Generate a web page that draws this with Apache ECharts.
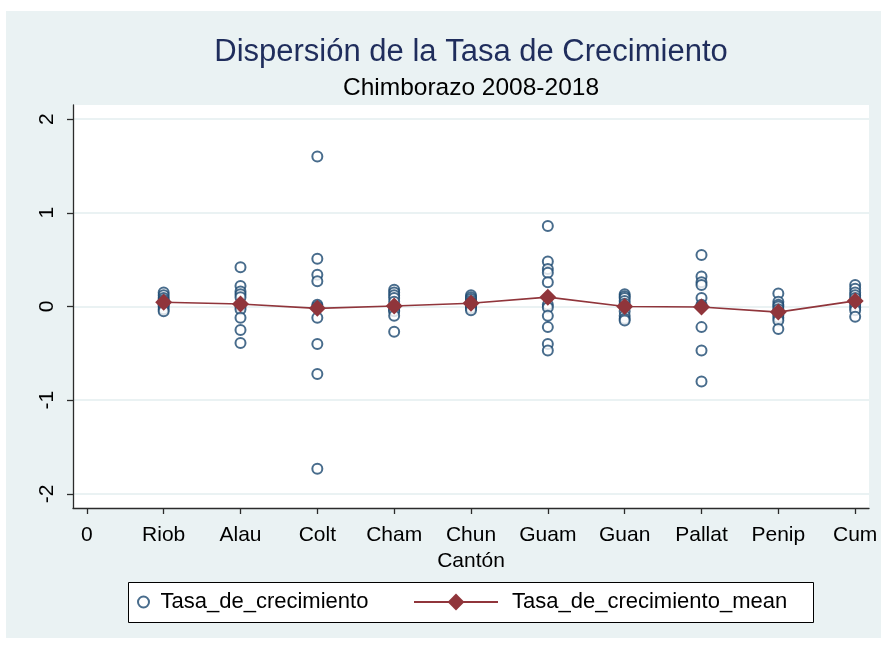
<!DOCTYPE html>
<html>
<head>
<meta charset="utf-8">
<script src="https://cdn.jsdelivr.net/npm/echarts@6/dist/echarts.min.js"></script>
<style>
  html, body { margin: 0; padding: 0; background: #fff; }
  #chart { width: 889px; height: 646px; }
</style>
</head>
<body>
<div id="chart"></div>
<script>
// x tick labels (position 0..10), cantons sit at 1..10
const tickLabels = ['0', 'Riob', 'Alau', 'Colt', 'Cham', 'Chun', 'Guam', 'Guan', 'Pallat', 'Penip', 'Cum']
const yTicks = [-2, -1, 0, 1, 2]

// growth rates per canton
const riob = [0.15, 0.12, 0.09, 0.07, 0.05, 0.03, 0.02, 0.0, -0.03, -0.05]
const alau = [0.42, 0.22, 0.16, 0.13, 0.10, 0.0, -0.03, -0.12, -0.25, -0.39]
const colt = [1.60, 0.51, 0.34, 0.27, 0.02, 0.0, -0.12, -0.40, -0.72, -1.73]
const cham = [0.18, 0.15, 0.12, 0.09, 0.05, -0.04, -0.02, -0.05, -0.10, -0.27]
const chun = [0.12, 0.10, 0.08, 0.06, 0.04, 0.03, 0.01, 0.0, -0.02, -0.04]
const guam = [0.86, 0.48, 0.40, 0.36, 0.26, 0.02, -0.01, -0.10, -0.22, -0.40, -0.47]
const guan = [0.13, 0.11, 0.09, 0.06, 0.03, 0.0, -0.05, -0.10, -0.13, -0.15]
const pallat = [0.55, 0.32, 0.26, 0.23, 0.09, 0.02, 0.0, -0.22, -0.47, -0.80]
const penip = [0.14, 0.05, 0.02, 0.0, -0.03, -0.06, -0.09, -0.12, -0.15, -0.24]
const cum = [0.23, 0.19, 0.15, 0.12, 0.09, 0.05, 0.02, -0.01, -0.04, -0.11]

// canton means (diamonds)
const means = [0.045, 0.027, -0.02, 0.005, 0.034, 0.10, 0.0, -0.005, -0.06, 0.06]

const font = 'Liberation Sans'
const navy = '#1a476f'
const maroon = '#90353b'
const axisColor = '#2b2b2b'

const scatterData = []
;[riob, alau, colt, cham, chun, guam, guan, pallat, penip, cum].forEach((vals, i) => {
  vals.forEach(v => scatterData.push([i + 1, v]))
})
const meanData = means.map((v, i) => [i + 1, v])

const myChart = echarts.init(document.getElementById('chart'))
const option = {
  backgroundColor: '#fff',
  animation: false,
  textStyle: { fontFamily: font },
  title: [
    {
      text: 'Dispersión de la Tasa de Crecimiento',
      left: 471,
      textAlign: 'center',
      top: 37,
      padding: 0,
      textStyle: { fontFamily: font, fontSize: 31, fontWeight: 'normal', color: '#1f2d5c' }
    },
    {
      text: 'Chimborazo 2008-2018',
      left: 471,
      textAlign: 'center',
      top: 76,
      padding: 0,
      textStyle: { fontFamily: font, fontSize: 24.5, fontWeight: 'normal', color: '#000' }
    }
  ],
  graphic: [
    {
      type: 'rect',
      z: -100,
      shape: { x: 6, y: 11, width: 875, height: 627 },
      style: { fill: '#eaf2f3' }
    },
    {
      type: 'rect',
      shape: { x: 128.5, y: 582.5, width: 685, height: 40 },
      style: { fill: '#fff', stroke: '#000', lineWidth: 1 }
    }
  ],
  legend: [
    {
      data: ['Tasa_de_crecimiento'],
      left: 137,
      top: 591,
      padding: 0,
      itemWidth: 24,
      itemHeight: 11,
      textStyle: { fontFamily: font, fontSize: 22, color: '#000' }
    },
    {
      data: ['Tasa_de_crecimiento_mean'],
      left: 413,
      top: 591,
      padding: 0,
      itemWidth: 84,
      itemHeight: 21,
      textStyle: { fontFamily: font, fontSize: 22, color: '#000', padding: [0, 0, 0, 9] }
    }
  ],
  grid: {
    left: 73,
    right: 20,
    top: 105,
    bottom: 138,
    show: true,
    backgroundColor: '#fff',
    borderWidth: 0
  },
  xAxis: {
    type: 'value',
    min: -0.18,
    max: 10.18,
    name: 'Cantón',
    nameLocation: 'middle',
    nameGap: 39,
    nameTextStyle: { fontFamily: font, fontSize: 21, color: '#000' },
    axisLine: { show: true, onZero: false, lineStyle: { color: axisColor, width: 1.3 } },
    axisTick: { show: true, length: 6, customValues: tickLabels.map((t, i) => i), lineStyle: { color: axisColor, width: 1.3 } },
    axisLabel: {
      customValues: tickLabels.map((t, i) => i),
      margin: 17,
      fontSize: 21,
      color: '#000',
      formatter: v => tickLabels[Math.round(v)]
    },
    splitLine: { show: false }
  },
  yAxis: {
    type: 'value',
    min: -2.15,
    max: 2.15,
    axisLine: { show: true, onZero: false, lineStyle: { color: axisColor, width: 1.3 } },
    axisTick: { show: true, length: 6, customValues: yTicks, lineStyle: { color: axisColor, width: 1.3 } },
    axisLabel: {
      customValues: yTicks,
      rotate: 90,
      margin: 15,
      fontSize: 21,
      color: '#000'
    },
    splitLine: { show: true, lineStyle: { color: '#eaf2f3', width: 2 } }
  },
  series: [
    {
      name: 'Tasa_de_crecimiento',
      type: 'scatter',
      symbol: 'emptyCircle',
      symbolSize: 10,
      itemStyle: { color: navy, borderColor: navy, borderWidth: 2 },
      data: scatterData,
      z: 2
    },
    {
      name: 'Tasa_de_crecimiento_mean',
      type: 'line',
      symbol: 'diamond',
      symbolSize: 17,
      showAllSymbol: true,
      lineStyle: { color: maroon, width: 1.6 },
      itemStyle: { color: maroon },
      data: meanData,
      z: 3
    }
  ]
}
myChart.setOption(option, true)
</script>
</body>
</html>
